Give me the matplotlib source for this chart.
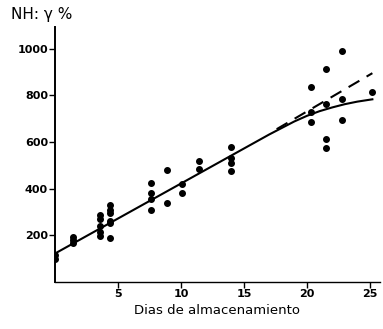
import matplotlib
matplotlib.use('Agg')

import numpy as np
import matplotlib.pyplot as plt

# measured points (days of storage, NH3 gamma %)
days = [0, 0,
        1.4, 1.4, 1.4,
        3.6, 3.6, 3.6, 3.6, 3.6,
        4.4, 4.4, 4.4, 4.4, 4.4, 4.4,
        7.6, 7.6, 7.6, 7.6,
        8.9, 8.9,
        10.1, 10.1,
        11.4, 11.4,
        14.0, 14.0, 14.0, 14.0,
        20.3, 20.3, 20.3,
        21.5, 21.5, 21.5, 21.5,
        22.8, 22.8, 22.8,
        25.2]
nh3 = [116, 100,
       194, 178, 168,
       287, 268, 240, 216, 198,
       330, 310, 294, 262, 252, 188,
       426, 380, 355, 309,
       480, 337,
       418, 383,
       519, 483,
       580, 530, 511, 476,
       837, 730, 687,
       912, 763, 611, 573,
       991, 783, 694,
       816]

# solid fitted curve
curve_x = [0, 5, 10, 15, 17, 18, 19, 20, 21, 22, 23, 24, 25.2]
curve_y = [122, 272, 422, 572, 632, 660, 688, 712, 732, 748, 762, 773, 783]

# dashed linear extension
dash_x = [17.6, 25.2]
dash_y = [655, 895]

fig = plt.figure(figsize=(3.83, 3.29), dpi=100)
ax = fig.add_axes([0.1436, 0.1429, 0.8484, 0.7751])

ax.plot(days, nh3, 'o', color='black', ms=4, mec='black')
ax.plot(curve_x, curve_y, '-', color='black', lw=1.5)
ax.plot(dash_x, dash_y, '--', color='black', lw=1.5, dashes=(6, 4))

ax.set_xlim(0, 25.8)
ax.set_ylim(0, 1093)
ax.set_xticks([5, 10, 15, 20, 25])
ax.set_yticks([200, 400, 600, 800, 1000])
ax.spines['top'].set_visible(False)
ax.spines['right'].set_visible(False)
ax.spines['left'].set_linewidth(1.4)
ax.spines['bottom'].set_linewidth(1.0)
ax.tick_params(direction='out', length=4, width=1, labelsize=8, pad=1)
for lab in ax.get_xticklabels() + ax.get_yticklabels():
    lab.set_fontweight('bold')

ax.set_xlabel("Dias de almacenamiento", fontsize=9.5, labelpad=4)
fig.text(0.028, 0.955, "NH: γ %", fontsize=11, ha='left', va='center')

fig.savefig("out.png", dpi=100)
